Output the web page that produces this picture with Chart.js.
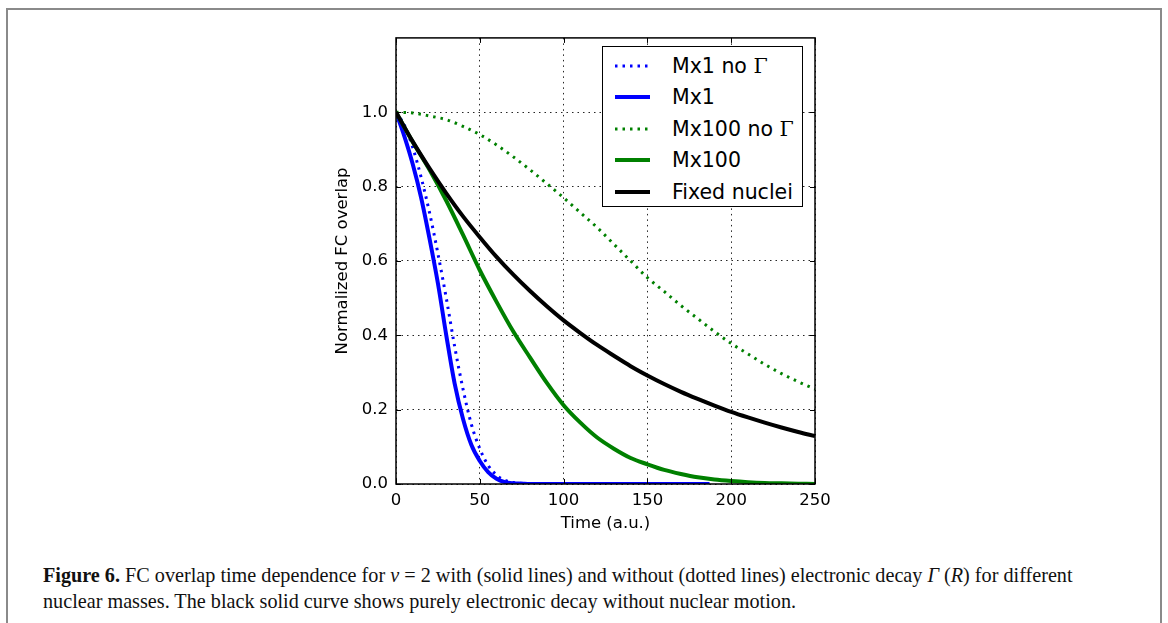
<!DOCTYPE html>
<html lang="en">
<head>
  <meta charset="UTF-8">
  <title>FC overlap time dependence</title>
  <script src="https://cdn.jsdelivr.net/npm/chart.js"></script>
  <style>
    * { margin: 0; padding: 0; box-sizing: border-box; }
    body { background: #fff; width: 1168px; height: 623px; overflow: hidden; position: relative; font-family: 'DejaVu Sans', sans-serif; }
    .frame { position: absolute; left: 6px; top: 8px; width: 1156px; height: 700px; border: 2px solid #8a8a8a; }
    .chart-box { position: absolute; left: 300px; top: 20px; width: 540px; height: 530px; }
    .legend { position: absolute; left: 602px; top: 46px; width: 201px; height: 161px; border: 1.5px solid #000; background: #fff; z-index: 2; padding-top: 3px; }
    .legend .row { height: 31.5px; display: flex; align-items: center; font-size: 20.5px; color: #000; }
    .legend svg { margin-left: 12px; margin-right: 22px; }
    .gamma { font-family: 'DejaVu Serif', serif; font-style: normal; }
    .caption { position: absolute; left: 43px; top: 562px; font-family: 'Liberation Serif', serif; font-size: 20.2px; line-height: 26px; color: #111; white-space: nowrap; }
    .caption b { font-weight: bold; }
  </style>
</head>
<body>
  <div class="frame"></div>
  <div class="chart-box"><canvas id="fcChart"></canvas></div>
  <div class="legend" id="legend"></div>
  <div class="caption">
    <b>Figure 6.</b> FC overlap time dependence for <i>ν</i> = 2 with (solid lines) and without (dotted lines) electronic decay <i>Γ</i> (<i>R</i>) for different<br>
    nuclear masses. The black solid curve shows purely electronic decay without nuclear motion.
  </div>

  <script>
    // values
    const timeSlow = [0, 10, 20, 30, 40, 50, 60, 70, 80, 90, 100, 110, 120, 130, 140, 150, 160, 170, 180, 190, 200, 210, 220, 230, 240, 250];
    const fixedNuclei = [1.0, 0.921, 0.849, 0.782, 0.720, 0.664, 0.611, 0.563, 0.519, 0.478, 0.440, 0.406, 0.374, 0.345, 0.317, 0.292, 0.269, 0.248, 0.229, 0.211, 0.194, 0.179, 0.165, 0.152, 0.140, 0.129];
    const mx100NoGamma = [1.0, 0.998, 0.99, 0.98, 0.962, 0.94, 0.912, 0.88, 0.845, 0.808, 0.77, 0.73, 0.69, 0.645, 0.60, 0.555, 0.518, 0.48, 0.445, 0.41, 0.378, 0.35, 0.322, 0.297, 0.275, 0.255];
    const mx100 = [1.0, 0.92, 0.845, 0.762, 0.67, 0.575, 0.49, 0.41, 0.34, 0.272, 0.212, 0.165, 0.125, 0.095, 0.07, 0.053, 0.038, 0.027, 0.018, 0.012, 0.008, 0.005, 0.003, 0.002, 0.001, 0.0];

    const timeFast = [0, 5, 10, 15, 20, 25, 30, 35, 40, 45, 50, 55, 60, 65, 70, 75, 80, 100, 120, 140, 160, 187];
    const mx1 = [1.0, 0.935, 0.86, 0.77, 0.66, 0.54, 0.40, 0.27, 0.175, 0.105, 0.062, 0.032, 0.014, 0.005, 0.002, 0.001, 0, 0, 0, 0, 0, 0];
    const mx1NoGamma = [1.0, 0.965, 0.905, 0.825, 0.73, 0.62, 0.50, 0.37, 0.255, 0.16, 0.095, 0.05, 0.024, 0.01, 0.004, 0.002, 0.001, 0, 0, 0, 0, 0];

    const xTicks = [0, 50, 100, 150, 200, 250];
    const yTicks = [0, 0.2, 0.4, 0.6, 0.8, 1.0];

    const legendItems = [
      { label: 'Mx1 no ', gamma: true, color: '#0000ff', dotted: true },
      { label: 'Mx1', color: '#0000ff', dotted: false },
      { label: 'Mx100 no ', gamma: true, color: '#008000', dotted: true },
      { label: 'Mx100', color: '#008000', dotted: false },
      { label: 'Fixed nuclei', color: '#000000', dotted: false }
    ];

    function pts(xs, ys) {
      return xs.map((x, i) => ({ x: x, y: ys[i] }));
    }

    function line(label, xs, ys, color, dotted, order) {
      return {
        label: label,
        data: pts(xs, ys),
        borderColor: color,
        borderWidth: dotted ? 3 : 4,
        borderDash: dotted ? [2.5, 5] : [],
        borderCapStyle: 'butt',
        pointRadius: 0,
        fill: false,
        cubicInterpolationMode: 'monotone',
        order: order
      };
    }

    // matplotlib style frame with inward ticks
    const framePlugin = {
      id: 'frame',
      afterDraw(chart) {
        const { ctx, chartArea: a, scales } = chart;
        ctx.save();
        ctx.strokeStyle = '#000';
        ctx.lineWidth = 1;
        ctx.beginPath();
        xTicks.forEach(v => {
          const px = Math.round(scales.x.getPixelForValue(v)) + 0.5;
          ctx.moveTo(px, a.bottom); ctx.lineTo(px, a.bottom - 5);
          ctx.moveTo(px, a.top); ctx.lineTo(px, a.top + 5);
        });
        yTicks.forEach(v => {
          const py = Math.round(scales.y.getPixelForValue(v)) + 0.5;
          ctx.moveTo(a.left, py); ctx.lineTo(a.left + 5, py);
          ctx.moveTo(a.right, py); ctx.lineTo(a.right - 5, py);
        });
        ctx.stroke();
        ctx.lineWidth = 1.5;
        ctx.strokeRect(a.left, a.top, a.right - a.left, a.bottom - a.top);
        ctx.restore();
      }
    };

    Chart.defaults.font.family = "'DejaVu Sans', sans-serif";
    Chart.defaults.color = '#000';

    const gridOpts = { color: 'rgba(0,0,0,0.85)', lineWidth: 1, drawTicks: false };
    const borderOpts = { display: false, dash: [1.5, 4] };

    new Chart(document.getElementById('fcChart'), {
      type: 'line',
      data: {
        datasets: [
          line('Mx1 no Γ', timeFast, mx1NoGamma, '#0000ff', true, 4),
          line('Mx1', timeFast, mx1, '#0000ff', false, 3),
          line('Mx100 no Γ', timeSlow, mx100NoGamma, '#008000', true, 2),
          line('Mx100', timeSlow, mx100, '#008000', false, 1),
          line('Fixed nuclei', timeSlow, fixedNuclei, '#000000', false, 0)
        ]
      },
      options: {
        responsive: true,
        maintainAspectRatio: false,
        animation: false,
        layout: { padding: { top: 16, right: 25, left: 0, bottom: 0 } },
        plugins: { legend: { display: false }, tooltip: { enabled: false } },
        scales: {
          x: {
            type: 'linear', min: 0, max: 250,
            afterBuildTicks: s => { s.ticks = xTicks.map(v => ({ value: v })); },
            afterFit: s => { s.height = 66; },
            ticks: { font: { size: 16.5 }, padding: 7, maxRotation: 0 },
            grid: gridOpts,
            border: borderOpts,
            title: { display: true, text: 'Time (a.u.)', font: { size: 16.5 }, padding: { top: 0, bottom: 16 } }
          },
          y: {
            type: 'linear', min: 0, max: 1.2,
            afterBuildTicks: s => { s.ticks = yTicks.map(v => ({ value: v })); },
            afterFit: s => { s.width = 96; },
            ticks: { font: { size: 16.5 }, padding: 8, callback: v => v.toFixed(1) },
            grid: gridOpts,
            border: borderOpts,
            title: { display: true, text: 'Normalized FC overlap', font: { size: 16.5 }, padding: { top: 33, bottom: 0 } }
          }
        }
      },
      plugins: [framePlugin]
    });

    // legend drawn as html so it sits inside the plot like the original
    const legendEl = document.getElementById('legend');
    legendItems.forEach(item => {
      const row = document.createElement('div');
      row.className = 'row';
      const dash = item.dotted ? 'stroke-dasharray="2.5 5"' : '';
      row.innerHTML = '<svg width="35" height="6"><line x1="0" y1="3" x2="35" y2="3" stroke="' + item.color +
        '" stroke-width="' + (item.dotted ? 3 : 4) + '" ' + dash + '/></svg>' +
        '<span>' + item.label + (item.gamma ? '<span class="gamma">Γ</span>' : '') + '</span>';
      legendEl.appendChild(row);
    });
  </script>
</body>
</html>
